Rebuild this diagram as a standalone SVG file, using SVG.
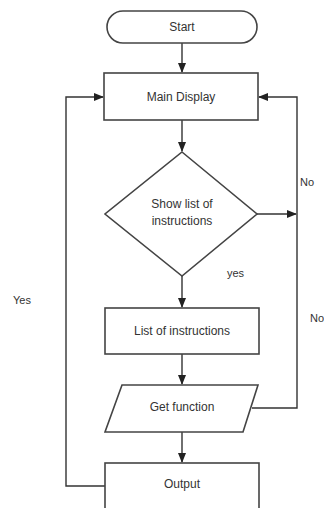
<svg xmlns="http://www.w3.org/2000/svg" width="324" height="508" viewBox="0 0 324 508">
<defs>
<marker id="ah" markerWidth="10" markerHeight="10" refX="9" refY="5" orient="auto" markerUnits="userSpaceOnUse">
<path d="M0,1 L10,5 L0,9 Z" fill="#222"/>
</marker>
<style>
.shape{fill:#fff;stroke:#444;stroke-width:1.6}
.line{fill:none;stroke:#333;stroke-width:1.4}
.t{font-family:"Liberation Sans",Arial,sans-serif;font-size:12px;fill:#333;text-anchor:middle;dominant-baseline:central}
.l{font-family:"Liberation Sans",Arial,sans-serif;font-size:11px;fill:#333;dominant-baseline:central}
</style>
</defs>
<rect width="324" height="508" fill="#fff"/>
<g id="connectors">
<path class="line" d="M182,43 L182,72" marker-end="url(#ah)"/>
<path class="line" d="M182,120 L182,151" marker-end="url(#ah)"/>
<path class="line" d="M257,214 L296,214" marker-end="url(#ah)"/>
<path class="line" d="M182,276 L182,307" marker-end="url(#ah)"/>
<path class="line" d="M182,354 L182,384" marker-end="url(#ah)"/>
<path class="line" d="M182,432 L182,462" marker-end="url(#ah)"/>
<path class="line" d="M252,408 L297,408 L297,97 L259,97" marker-end="url(#ah)"/>
<path class="line" d="M105,486 L66,486 L66,97 L103,97" marker-end="url(#ah)"/>
</g>
<g id="start">
<rect class="shape" x="107" y="11" width="150" height="32" rx="16" ry="16"/>
<text class="t" x="182" y="27">Start</text>
</g>
<g id="main-display">
<rect class="shape" x="104" y="73" width="154" height="47"/>
<text class="t" x="181" y="97">Main Display</text>
</g>
<g id="decision">
<polygon class="shape" points="182,152 257,214 182,276 105,214"/>
<text class="t" x="182" y="204">Show list of</text>
<text class="t" x="182" y="221">instructions</text>
</g>
<g id="list">
<rect class="shape" x="105" y="308" width="154" height="46"/>
<text class="t" x="182" y="331">List of instructions</text>
</g>
<g id="get-function">
<polygon class="shape" points="122,385 258,385 243,432 105,432"/>
<text class="t" x="182" y="407">Get function</text>
</g>
<g id="output">
<rect class="shape" x="105" y="463" width="154" height="60"/>
<text class="t" x="182" y="484">Output</text>
</g>
<g id="labels">
<text class="l" x="300" y="182">No</text>
<text class="l" x="227" y="273">yes</text>
<text class="l" x="13" y="300">Yes</text>
<text class="l" x="310" y="318">No</text>
</g>
</svg>
